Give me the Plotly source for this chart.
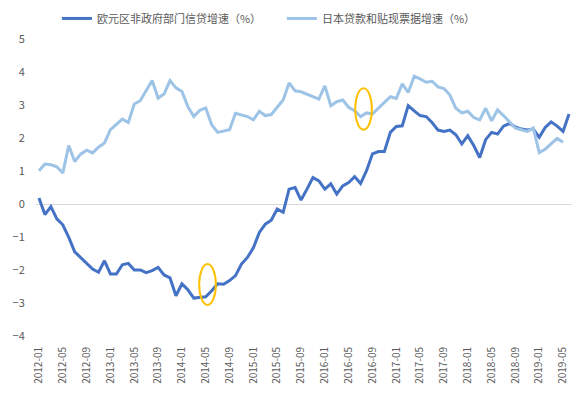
import pandas as pd
import plotly.graph_objects as go

# ---- data ----
months = [d.strftime("%Y-%m") for d in pd.date_range("2012-01-01", "2019-06-01", freq="MS")]

euro_credit = [
    0.18, -0.32, -0.08, -0.45, -0.63, -1.01, -1.45, -1.62, -1.80, -1.97, -2.07, -1.72,   # 2012
    -2.12, -2.12, -1.84, -1.80, -2.00, -2.00, -2.08, -2.02, -1.92, -2.15, -2.24, -2.78,  # 2013
    -2.42, -2.60, -2.85, -2.83, -2.81, -2.63, -2.42, -2.43, -2.32, -2.17, -1.82, -1.62,  # 2014
    -1.33, -0.86, -0.61, -0.49, -0.15, -0.25, 0.45, 0.50, 0.12, 0.45, 0.80, 0.70,       # 2015
    0.45, 0.61, 0.30, 0.55, 0.65, 0.83, 0.62, 1.01, 1.52, 1.59, 1.59, 2.17,              # 2016
    2.35, 2.37, 2.98, 2.82, 2.68, 2.65, 2.47, 2.24, 2.20, 2.24, 2.10, 1.82,              # 2017
    2.07, 1.77, 1.41, 1.95, 2.17, 2.12, 2.36, 2.44, 2.34, 2.27, 2.24, 2.27,              # 2018
    2.02, 2.32, 2.49, 2.36, 2.20, 2.73,                                                  # 2019
]

japan_loans = [
    1.01, 1.21, 1.19, 1.13, 0.94, 1.77, 1.29, 1.51, 1.63, 1.55, 1.72, 1.85,              # 2012
    2.25, 2.40, 2.57, 2.47, 3.03, 3.13, 3.43, 3.74, 3.21, 3.33, 3.74, 3.52,              # 2013
    3.41, 2.95, 2.65, 2.84, 2.91, 2.40, 2.17, 2.20, 2.25, 2.75, 2.71, 2.65,              # 2014
    2.55, 2.81, 2.68, 2.71, 2.93, 3.15, 3.67, 3.43, 3.40, 3.33, 3.25, 3.18,              # 2015
    3.58, 2.98, 3.10, 3.15, 2.93, 2.83, 2.65, 2.76, 2.73, 2.90, 3.08, 3.25,              # 2016
    3.20, 3.64, 3.38, 3.87, 3.79, 3.69, 3.72, 3.55, 3.50, 3.30, 2.90, 2.76,              # 2017
    2.81, 2.62, 2.55, 2.90, 2.52, 2.85, 2.68, 2.50, 2.30, 2.25, 2.20, 2.30,              # 2018
    1.56, 1.66, 1.82, 1.99, 1.87,                                                        # 2019
]

series_names = ["欧元区非政府部门信贷增速（%）", "日本贷款和贴现票据增速（%）"]
tick_labels = months[::4]
y_ticks = [-4, -3, -2, -1, 0, 1, 2, 3, 4, 5]

# highlight ellipses (category-index x bounds, value y bounds)
highlights = [
    (26.9, 29.7, -3.06, -1.82),
    (53.1, 55.9, 2.25, 3.51),
]

# ---- figure ----
FONT = "Noto Sans CJK SC, Microsoft YaHei, sans-serif"
GREY = "#595959"

fig = go.Figure()
fig.add_trace(go.Scatter(
    x=months, y=euro_credit, mode="lines", name=series_names[0],
    line=dict(color="#4472C4", width=3),
))
fig.add_trace(go.Scatter(
    x=months[:len(japan_loans)], y=japan_loans, mode="lines", name=series_names[1],
    line=dict(color="#9DC3E6", width=3),
))

for x0, x1, y0, y1 in highlights:
    fig.add_shape(type="circle", xref="x", yref="y", x0=x0, x1=x1, y0=y0, y1=y1,
                  line=dict(color="#FFC000", width=2))

fig.update_layout(
    width=588, height=394,
    margin=dict(l=35.5, r=15.5, t=39, b=58, autoexpand=False),
    paper_bgcolor="white", plot_bgcolor="white",
    font=dict(family=FONT, color=GREY, size=11),
    showlegend=True,
    legend=dict(orientation="h", x=0.039, xanchor="left", y=0.99, yanchor="top",
                yref="container", font=dict(size=11, color=GREY, family=FONT),
                bgcolor="rgba(0,0,0,0)", itemwidth=30, tracegroupgap=0,
                entrywidth=180),
)

fig.update_xaxes(
    type="category", categoryorder="array", categoryarray=months,
    range=[-0.5, len(months) - 0.5],
    tickmode="array", tickvals=tick_labels, ticktext=tick_labels,
    tickangle=-90, tickfont=dict(size=10, color=GREY, family=FONT),
    showgrid=False, zeroline=False, showline=False,
    ticks="outside", ticklen=6, tickcolor="rgba(0,0,0,0)",
)
fig.update_yaxes(
    range=[-4, 5], tickmode="array", tickvals=y_ticks,
    tickfont=dict(size=11, color=GREY, family=FONT),
    showgrid=False, zeroline=True, zerolinecolor="#D9D9D9", zerolinewidth=1,
    showline=False, ticks="outside", ticklen=8, tickcolor="rgba(0,0,0,0)",
)

fig.write_html("out.html", config={"displayModeBar": False},
               post_script="document.body.style.margin='0';document.body.style.overflow='hidden';")
